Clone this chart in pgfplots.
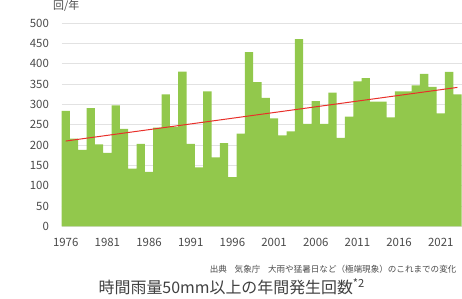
\documentclass[border=0pt]{standalone}
\usepackage{pgfplots}
\pgfplotsset{compat=1.18}
\usepackage{fontspec}
\setmainfont{Noto Sans CJK JP}
\definecolor{bargreen}{HTML}{92C84C}
\definecolor{txt}{HTML}{4A4A4A}
\definecolor{ttl}{HTML}{404040}
\definecolor{gridc}{HTML}{E2E2E2}
\definecolor{trend}{HTML}{E8302A}
\pgfplotstableread{
year val
1976 284
1977 216
1978 188
1979 291
1980 202
1981 181
1982 298
1983 240
1984 142
1985 203
1986 134
1987 243
1988 325
1989 245
1990 381
1991 203
1992 145
1993 332
1994 170
1995 205
1996 121
1997 228
1998 429
1999 355
2000 316
2001 266
2002 224
2003 234
2004 461
2005 252
2006 308
2007 252
2008 329
2009 218
2010 270
2011 357
2012 365
2013 307
2014 307
2015 268
2016 332
2017 332
2018 347
2019 375
2020 343
2021 278
2022 380
2023 325
}\rain
\begin{document}
\begin{tikzpicture}[x=1bp,y=1bp]
\begin{axis}[
  at={(0,0)}, anchor=south west, scale only axis,
  width=400.4bp, height=203.4bp,
  xmin=1975.5, xmax=2023.5, ymin=0, ymax=500,
  axis line style={draw=none},
  ymajorgrids, grid style={gridc, line width=0.8pt},
  ytick={0,50,...,500},
  xtick={1976,1981,...,2021},
  major tick length=0pt,
  /pgf/number format/assume math mode=true,
  /pgf/number format/set thousands separator={},
  tick label style={font=\fontsize{11.5}{13}\selectfont, text=txt},
  yticklabel style={inner sep=0pt, xshift=-12.5bp},
  xticklabel style={inner sep=0pt, yshift=-12bp},
  clip=false,
]
\addplot[ybar, bar width=1, fill=bargreen, draw=none] table[x=year, y=val] {\rain};
\addplot[trend, line width=1bp, sharp plot, no marks] coordinates {(1976,210) (2023,342)};
\end{axis}
\node[anchor=west, inner sep=0pt, font=\fontsize{11}{13}\selectfont, text=txt] at (-8.6,221) {回/年};
\node[anchor=east, inner sep=0pt, font=\fontsize{8.6}{10}\selectfont, text=txt] at (395.4,-43.3) {出典\hspace{0.9em}気象庁\hspace{0.9em}大雨や猛暑日など（極端現象）のこれまでの変化};
\node[inner sep=0pt, font=\fontsize{16}{18}\selectfont, text=ttl] at (170.4,-60.3) {時間雨量50mm以上の年間発生回数\textsuperscript{*2}};
\path[use as bounding box] (-61.6,-72.3) rectangle (400.4,221.7);
\end{tikzpicture}
\end{document}
